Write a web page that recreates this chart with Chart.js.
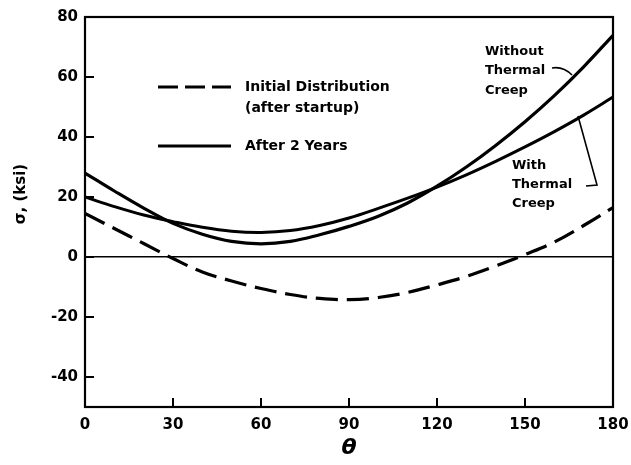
<!DOCTYPE html>
<html>
<head>
<meta charset="utf-8">
<script src="https://cdn.jsdelivr.net/npm/chart.js@4/dist/chart.umd.min.js"></script>
<style>
html,body{margin:0;padding:0;background:#fff;}
#wrap{width:631px;height:465px;position:relative;}
</style>
</head>
<body>
<div id="wrap"><canvas id="c" width="631" height="465"></canvas></div>
<script>
// ---- data ----
const theta = [0,10,20,30,40,50,60,70,80,90,100,110,120,130,140,150,160,170,180];
const initialDistribution = [14.5,9.5,4.5,-0.5,-5,-8,-10.5,-12.5,-13.8,-14.2,-13.5,-11.8,-9.3,-6.5,-3,0.8,5,10.5,16.5];
const withoutThermalCreep = [28,22,16.3,11.2,7.6,5.2,4.4,5.2,7.4,10.2,13.6,18.0,23.6,30.0,37.2,45.1,53.8,63.4,73.9];
const withThermalCreep = [20,16.8,14,11.8,9.9,8.6,8.2,8.8,10.5,13.0,16.2,19.6,23.3,27.4,31.9,36.7,41.8,47.3,53.3];
const yTickValues = [-40,-20,0,20,40,60,80];
const xTickValues = [0,30,60,90,120,150,180];
const legendLabels = ['Initial Distribution', '(after startup)', 'After 2 Years'];
const yTitle = 'σ, (ksi)';
const xTitle = 'θ';

const pts = arr => theta.map((t,i)=>({x:t,y:arr[i]}));
const FONT = '"DejaVu Sans", sans-serif';

const decor = {
  id:'decor',
  afterDraw(chart){
    const ctx = chart.ctx, a = chart.chartArea;
    const xs = chart.scales.x, ys = chart.scales.y;
    ctx.save();
    ctx.strokeStyle = '#000';
    ctx.fillStyle = '#000';
    // frame
    ctx.lineWidth = 2.2;
    ctx.strokeRect(a.left, a.top, a.right-a.left, a.bottom-a.top);
    // inward ticks
    ctx.lineWidth = 2;
    yTickValues.forEach(v=>{
      const p = ys.getPixelForValue(v);
      ctx.beginPath(); ctx.moveTo(a.left,p); ctx.lineTo(a.left+9,p); ctx.stroke();
    });
    xTickValues.forEach(v=>{
      const p = xs.getPixelForValue(v);
      ctx.beginPath(); ctx.moveTo(p,a.bottom); ctx.lineTo(p,a.bottom-9); ctx.stroke();
    });
    // legend
    ctx.lineWidth = 3.2;
    ctx.setLineDash([20,7]);
    ctx.beginPath(); ctx.moveTo(158,87); ctx.lineTo(231,87); ctx.stroke();
    ctx.setLineDash([]);
    ctx.beginPath(); ctx.moveTo(158,146); ctx.lineTo(231,146); ctx.stroke();
    ctx.font = 'bold 14px ' + FONT;
    ctx.textBaseline = 'middle';
    ctx.textAlign = 'left';
    ctx.fillText(legendLabels[0], 245, 87);
    ctx.fillText(legendLabels[1], 245, 108);
    ctx.fillText(legendLabels[2], 245, 146);
    // annotations
    ctx.font = 'bold 13px ' + FONT;
    ctx.fillText('Without', 485, 52);
    ctx.fillText('Thermal', 485, 71);
    ctx.fillText('Creep', 485, 91);
    ctx.fillText('With', 512, 166);
    ctx.fillText('Thermal', 512, 185);
    ctx.fillText('Creep', 512, 204);
    ctx.lineWidth = 1.6;
    ctx.beginPath(); ctx.moveTo(552,68); ctx.quadraticCurveTo(563,66,572,75); ctx.stroke();
    ctx.beginPath(); ctx.moveTo(578,116); ctx.lineTo(597,185); ctx.lineTo(586,186); ctx.stroke();
    // axis titles
    ctx.font = 'bold 15px ' + FONT;
    ctx.save();
    ctx.translate(21,194);
    ctx.rotate(-Math.PI/2);
    ctx.textAlign = 'center';
    ctx.fillText(yTitle, 0, 0);
    ctx.restore();
    ctx.font = 'italic bold 22px ' + FONT;
    ctx.textAlign = 'center';
    ctx.fillText(xTitle, 349, 448);
    ctx.restore();
  }
};

new Chart(document.getElementById('c'), {
  type:'line',
  data:{
    datasets:[
      {label:'Initial Distribution (after startup)', data:pts(initialDistribution), borderColor:'#000', borderWidth:3.2, borderDash:[22,9], pointRadius:0, tension:0.4, fill:false},
      {label:'Without Thermal Creep', data:pts(withoutThermalCreep), borderColor:'#000', borderWidth:3.2, pointRadius:0, tension:0.4, fill:false},
      {label:'With Thermal Creep', data:pts(withThermalCreep), borderColor:'#000', borderWidth:3, pointRadius:0, tension:0.4, fill:false}
    ]
  },
  options:{
    responsive:false,
    animation:false,
    layout:{padding:{top:17,right:18,left:0,bottom:0}},
    plugins:{legend:{display:false}, tooltip:{enabled:false}},
    scales:{
      x:{
        type:'linear', min:0, max:180,
        afterBuildTicks:s=>{s.ticks = xTickValues.map(v=>({value:v}));},
        afterFit:s=>{s.height = 58; s.paddingRight = 0; s.paddingLeft = 0;},
        grid:{display:false, drawTicks:false},
        border:{display:true, color:'#000', width:2},
        ticks:{color:'#000', font:{family:FONT, size:15, weight:'bold'}, padding:9, maxRotation:0}
      },
      y:{
        type:'linear', min:-50, max:80,
        afterBuildTicks:s=>{s.ticks = yTickValues.map(v=>({value:v}));},
        afterFit:s=>{s.width = 85; s.paddingTop = 0; s.paddingBottom = 0;},
        grid:{drawTicks:false, lineWidth:1.5, color:c=> (c.tick && c.tick.value===0) ? '#000' : 'rgba(0,0,0,0)'},
        border:{display:true, color:'#000', width:2},
        ticks:{color:'#000', font:{family:FONT, size:15, weight:'bold'}, padding:7}
      }
    }
  },
  plugins:[decor]
});
</script>
</body>
</html>
